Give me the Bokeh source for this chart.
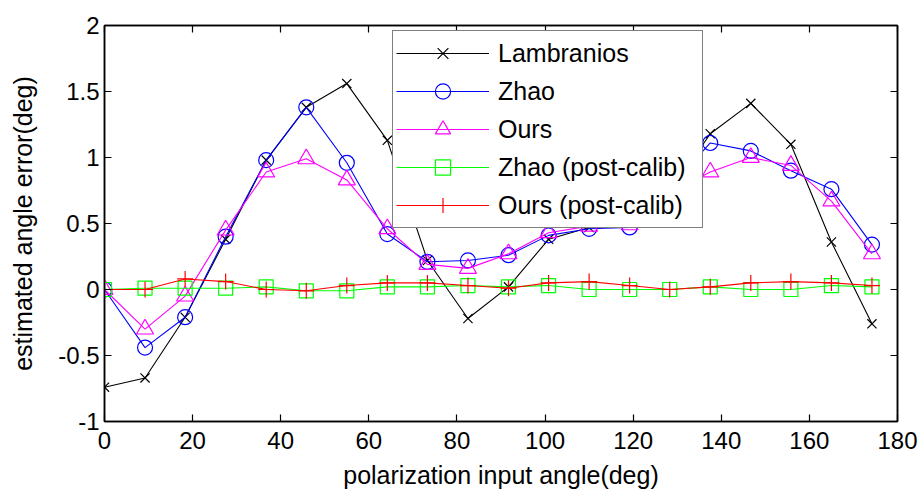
from bokeh.plotting import figure
from bokeh.models import LinearAxis, FixedTicker, NumeralTickFormatter, Range1d, CustomJSTickFormatter
from bokeh.embed import file_html
from bokeh.resources import INLINE

# ---- data ----
angles = [0, 9.2, 18.3, 27.5, 36.7, 45.8, 55.0, 64.2, 73.3, 82.5,
          91.7, 100.8, 110.0, 119.2, 128.3, 137.5, 146.7, 155.8, 165.0, 174.2]
lambranios = [-0.74, -0.67, -0.21, 0.38, 0.98, 1.38, 1.56, 1.13, 0.22, -0.22,
              0.02, 0.38, 0.47, 0.55, 0.73, 1.18, 1.41, 1.10, 0.36, -0.26]
zhao = [0.0, -0.44, -0.21, 0.40, 0.98, 1.38, 0.96, 0.42, 0.21, 0.22,
        0.26, 0.41, 0.46, 0.47, 0.77, 1.11, 1.05, 0.90, 0.76, 0.34]
ours = [0.0, -0.30, -0.05, 0.45, 0.89, 0.99, 0.83, 0.46, 0.19, 0.16,
        0.27, 0.43, 0.48, 0.49, 0.73, 0.89, 1.00, 0.94, 0.67, 0.27]
zhao_pc = [0.0, 0.01, 0.01, 0.01, 0.02, -0.01, -0.01, 0.02, 0.02, 0.03,
           0.02, 0.03, 0.0, 0.0, 0.0, 0.02, 0.0, 0.0, 0.03, 0.02]
ours_pc = [0.0, 0.0, 0.08, 0.06, 0.0, -0.01, 0.03, 0.05, 0.05, 0.03,
           0.01, 0.05, 0.06, 0.03, 0.0, 0.02, 0.05, 0.06, 0.05, 0.03]
series_names = ["Lambranios", "Zhao", "Ours", "Zhao (post-calib)", "Ours (post-calib)"]
x_ticks = [0, 20, 40, 60, 80, 100, 120, 140, 160, 180]
y_ticks = [-1, -0.5, 0, 0.5, 1, 1.5, 2]

FONT = "Liberation Sans"

p = figure(width=921, height=492, output_backend="svg", toolbar_location=None,
           x_range=Range1d(0, 180), y_range=Range1d(-1, 2),
           min_border_left=104, min_border_right=24, min_border_top=25,
           min_border_bottom=71)
p.grid.visible = False
p.outline_line_color = "black"
p.outline_line_width = 1.5
p.background_fill_color = "white"
p.border_fill_color = "white"

styles = [
    dict(color="black", marker="x", size=13),
    dict(color="#0000ff", marker="circle", size=15),
    dict(color="#ff00ff", marker="triangle", size=17),
    dict(color="#00ff00", marker="square", size=14),
    dict(color="#ff0000", marker="cross", size=16),
]
data = [lambranios, zhao, ours, zhao_pc, ours_pc]
for name, ys, st in zip(series_names, data, styles):
    p.line(angles, ys, line_color=st["color"], line_width=1.1, legend_label=name)
    p.scatter(angles, ys, marker=st["marker"], size=st["size"],
              line_color=st["color"], fill_color=None, line_width=1.2,
              legend_label=name)

def style_axis(ax, ticks, show_labels=True):
    ax.ticker = FixedTicker(ticks=ticks)
    ax.axis_line_color = "black"
    ax.axis_line_width = 1.5
    ax.major_tick_in = 7
    ax.major_tick_out = 0
    ax.major_tick_line_color = "black"
    ax.major_tick_line_width = 1.2
    ax.minor_tick_line_color = None
    ax.major_label_text_font = FONT
    ax.major_label_text_color = "black"
    ax.major_label_text_font_size = "24px"
    if show_labels:
        ax.formatter = NumeralTickFormatter(format="0.[0]")
    else:
        ax.formatter = CustomJSTickFormatter(code="return ''")
        ax.major_label_standoff = 0

xa = p.xaxis[0]
ya = p.yaxis[0]
style_axis(xa, x_ticks)
style_axis(ya, y_ticks)
xa.major_label_standoff = 10
ya.major_label_standoff = 5
xa.axis_label = "polarization input angle(deg)"
ya.axis_label = "estimated angle error(deg)"
for ax in (xa, ya):
    ax.axis_label_text_font = FONT
    ax.axis_label_text_font_size = "25px"
    ax.axis_label_text_font_style = "normal"
    ax.axis_label_text_color = "black"
xa.axis_label_standoff = 9
ya.axis_label_standoff = 18

top = LinearAxis()
right = LinearAxis()
style_axis(top, x_ticks, show_labels=False)
style_axis(right, y_ticks, show_labels=False)
p.add_layout(top, "above")
p.add_layout(right, "right")

lg = p.legend[0]
lg.location = (288, 193)
lg.label_text_font = FONT
lg.label_text_font_size = "25px"
lg.label_text_color = "black"
lg.border_line_color = "black"
lg.border_line_width = 1.5
lg.background_fill_color = "white"
lg.background_fill_alpha = 1.0
lg.padding = 3
lg.spacing = 0
lg.glyph_width = 93
lg.glyph_height = 38
lg.label_height = 38
lg.label_standoff = 9
lg.label_width = 201
lg.margin = 0

open("out.html", "w").write(file_html(p, INLINE))
